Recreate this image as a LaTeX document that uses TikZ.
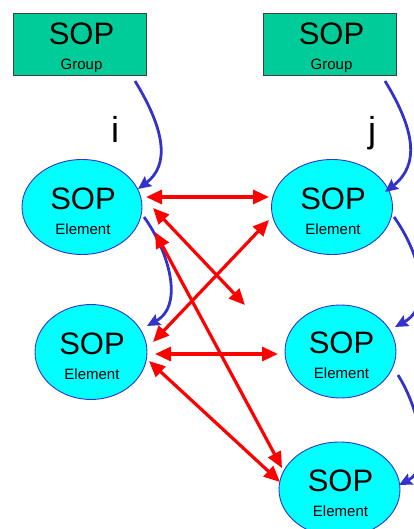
\documentclass[tikz,border=0pt]{standalone}
\usepackage{fontspec}
\setmainfont{Liberation Sans}
\usetikzlibrary{shapes.geometric,arrows.meta,calc}
\definecolor{grp}{RGB}{0,204,153}
\definecolor{bl}{RGB}{51,51,204}
\definecolor{cy}{RGB}{0,255,255}
\definecolor{rd}{RGB}{255,0,0}
\begin{document}
\begin{tikzpicture}[x=1pt,y=-1pt,
  grpbox/.style={draw=black!75, fill=grp, minimum width=133pt, minimum height=62pt, inner sep=0pt, outer sep=0pt, line width=0.8pt},
  elem/.style={ellipse, draw=bl, fill=cy, inner sep=0pt, outer sep=0pt, line width=0.9pt},
  big/.style={anchor=base, inner sep=0pt, font=\fontsize{31}{31}\selectfont},
  small/.style={anchor=base, inner sep=0pt, font=\fontsize{15}{15}\selectfont},
  lbl/.style={anchor=base, inner sep=0pt, font=\fontsize{36}{36}\selectfont},
  bluearr/.style={draw=bl, line width=2.8pt, -{Stealth[length=13pt,width=12pt,inset=2pt]}},
  redarr/.style={draw=rd, line width=3.2pt, {Triangle[length=16pt,width=14pt]}-{Triangle[length=16pt,width=14pt]}},
]
\useasboundingbox (0,0) rectangle (414,529);

% group boxes
\node[grpbox] (g1) at (79.5,44) {};
\node[grpbox] (g2) at (329.5,44) {};
\node[big] (g1a) at ($(g1)+(2,1)$) {SOP};
\node[small] (g1b) at ($(g1)+(2,26)$) {Group};
\node[big] (g2a) at ($(g2)+(2,1)$) {SOP};
\node[small] (g2b) at ($(g2)+(2,26)$) {Group};

% elements
\node[elem, minimum width=120pt, minimum height=95pt] (e1) at (82,207) {};
\node[elem, minimum width=121pt, minimum height=95pt] (e2) at (332,207) {};
\node[elem, minimum width=112pt, minimum height=95pt] (e3) at (91,352) {};
\node[elem, minimum width=111pt, minimum height=93pt] (e4) at (340.5,351.5) {};
\node[elem, minimum width=121pt, minimum height=95pt] (e5) at (339.5,489.5) {};

\foreach \e in {e1,e2,e3,e4,e5}{
  \node[big] (\e a) at ($(\e)+(1,2)$) {SOP};
  \node[small] (\e b) at ($(\e)+(1,27)$) {Element};
}

% index labels
\node[lbl] (li) at (115,143) {i};
\node[lbl] (lj) at (372,143) {j};

% blue arrows
\draw[bluearr] ($(g1)+(55.5,37)$) .. controls (165,130) and (170,165) .. ($(e1)+(56,-18)$);
\draw[bluearr] ($(g2)+(55.5,37)$) .. controls (415,130) and (420,165) .. ($(e2)+(53,-15)$);
\draw[bluearr] ($(e1)+(62,10)$) .. controls (168,250) and (185,305) .. ($(e3)+(56,-26)$);
\draw[bluearr] ($(e2)+(62,10)$) .. controls (418,250) and (435,305) .. ($(e4)+(54.5,-24.5)$);
\draw[bluearr] ($(e4)+(57.5,23.5)$) .. controls (420,410) and (432,468) .. ($(e5)+(59.5,-4.5)$);

% red arrows
\coordinate (free) at (245,305);
\draw[redarr] ($(e1)+(64,-10)$) -- ($(e2)+(-63,-10)$);
\draw[redarr] ($(e1)+(71,1)$) -- (free);
\draw[redarr] ($(e3)+(62,-10)$) -- ($(e2)+(-63,13)$);
\draw[redarr] ($(e1)+(73,25)$) -- ($(e5)+(-57.5,-21.5)$);
\draw[redarr] ($(e3)+(64,2)$) -- ($(e4)+(-62.5,2.5)$);
\draw[redarr] ($(e3)+(58,9)$) -- ($(e5)+(-59.5,-7.5)$);
\end{tikzpicture}
\end{document}
